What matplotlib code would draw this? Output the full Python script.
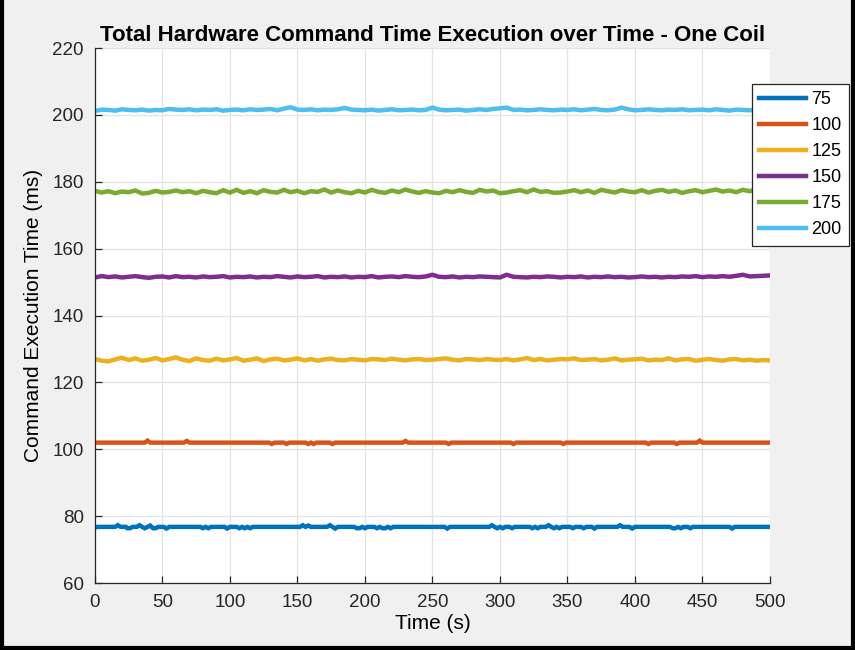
import numpy as np
import matplotlib
matplotlib.use("Agg")
import matplotlib.pyplot as plt
from matplotlib.lines import Line2D

plt.rcParams['font.family'] = ['Liberation Sans', 'DejaVu Sans']

# series labels and MATLAB default colours
labels = ['75', '100', '125', '150', '175', '200']
colors = ['#0072BD', '#D95319', '#EDB120', '#7E2F8E', '#77AC30', '#4DBEEE']

# 75 and 100 are flat with a few blips -> sparse points
t75 = [0, 2, 15, 17, 19, 23, 24, 26, 28, 31, 33, 35, 37, 39, 41, 43, 45, 47, 51, 53,
       55, 78, 80, 82, 84, 86, 96, 98, 100, 105, 107, 109, 111, 113, 115, 117, 152, 154, 156, 158,
       160, 172, 174, 176, 178, 180, 192, 194, 196, 198, 200, 202, 207, 209, 211, 213, 215, 217, 219, 221,
       259, 261, 263, 292, 294, 296, 298, 300, 302, 304, 307, 309, 311, 322, 324, 326, 328, 330, 334, 336,
       338, 340, 342, 344, 346, 352, 354, 356, 360, 362, 364, 368, 370, 372, 387, 389, 391, 396, 398, 400,
       426, 428, 430, 432, 434, 436, 439, 441, 443, 470, 472, 474, 500]
v75 = [76.6, 76.8, 76.8, 77.3, 76.8, 76.8, 76.4, 76.4, 76.8, 76.8, 77.3, 76.8, 76.4, 76.8, 77.2, 76.4, 76.4, 76.8, 76.8, 76.3,
       76.8, 76.8, 76.4, 76.8, 76.4, 76.8, 76.8, 76.3, 76.8, 76.8, 76.4, 76.8, 76.4, 76.8, 76.4, 76.8, 76.8, 77.3, 76.8, 77.2,
       76.8, 76.8, 77.3, 76.8, 76.3, 76.8, 76.8, 76.4, 76.4, 76.8, 76.4, 76.8, 76.8, 76.4, 76.8, 76.4, 76.4, 76.8, 76.4, 76.8,
       76.8, 76.3, 76.8, 76.8, 77.3, 76.8, 76.4, 76.8, 76.4, 76.8, 76.8, 76.4, 76.8, 76.8, 76.4, 76.8, 76.4, 76.8, 76.8, 77.3,
       76.8, 76.4, 76.8, 76.4, 76.8, 76.8, 76.4, 76.8, 76.8, 76.4, 76.8, 76.8, 76.3, 76.8, 76.8, 77.3, 76.8, 76.8, 76.3, 76.8,
       76.8, 76.4, 76.4, 76.8, 76.4, 76.8, 76.8, 76.4, 76.8, 76.8, 76.3, 76.8, 76.8]

t100 = [0, 37, 39, 41, 66, 68, 70, 129, 131, 133, 140, 142, 144, 156, 158, 160, 162, 164, 166, 174,
        176, 178, 228, 230, 232, 260, 262, 264, 308, 310, 312, 345, 347, 349, 408, 410, 412, 429, 431, 433,
        446, 448, 450, 500]
v100 = [102.0, 102.0, 102.6, 102.0, 102.0, 102.5, 102.0, 102.0, 101.6, 102.0, 102.0, 101.6, 102.0, 102.0, 101.6, 102.0, 101.6, 102.0, 102.0, 102.0,
        101.6, 102.0, 102.0, 102.5, 102.0, 102.0, 101.6, 102.0, 102.0, 101.6, 102.0, 102.0, 101.6, 102.0, 102.0, 101.6, 102.0, 102.0, 101.6, 102.0,
        102.0, 102.6, 102.0, 102.0]

# the other four are noisy -> one reading every 5 s
t5 = list(range(0, 501, 5))
v125 = [127.0, 126.5, 126.3, 126.9, 127.4, 126.7, 127.2, 126.5, 126.8, 127.3,
        126.6, 127.0, 127.5, 126.8, 126.4, 127.2, 126.7, 126.5, 127.1, 126.6,
        126.9, 127.3, 126.5, 126.8, 127.2, 126.4, 126.9, 127.1, 126.6, 126.8,
        127.2, 126.6, 127.0, 126.5, 126.9, 127.1, 126.7, 126.6, 127.0, 126.8,
        126.6, 127.0, 126.9, 126.7, 127.1, 126.8, 126.6, 126.9, 127.0, 126.7,
        126.8, 127.0, 127.2, 126.8, 126.6, 127.0, 126.9, 126.7, 127.0, 126.8,
        126.7, 127.0, 126.6, 126.9, 127.3, 126.7, 127.0, 126.6, 126.8, 127.0,
        126.9, 127.2, 126.7, 126.8, 127.0, 126.6, 126.8, 127.2, 126.6, 126.8,
        126.9, 127.1, 126.6, 126.8, 126.7, 127.2, 126.6, 126.9, 127.0, 126.5,
        126.8, 127.0, 126.7, 126.5, 126.9, 127.0, 126.6, 126.8, 126.5, 126.7, 126.6]
v150 = [151.4, 151.8, 151.5, 151.7, 151.4, 151.6, 151.8, 151.5, 151.3, 151.6,
        151.7, 151.4, 151.8, 151.5, 151.6, 151.4, 151.7, 151.5, 151.6, 151.8,
        151.4, 151.6, 151.5, 151.7, 151.4, 151.6, 151.5, 151.8, 151.6, 151.4,
        151.7, 151.5, 151.6, 151.8, 151.4, 151.6, 151.5, 151.7, 151.4, 151.6,
        151.5, 151.8, 151.4, 151.6, 151.7, 151.5, 151.8, 151.6, 151.5, 151.7,
        152.2, 151.6, 151.5, 151.7, 151.4, 151.6, 151.5, 151.7, 151.6, 151.5,
        151.4, 152.2, 151.6, 151.5, 151.4, 151.6, 151.5, 151.7, 151.6, 151.4,
        151.6, 151.5, 151.7, 151.4, 151.6, 151.5, 151.7, 151.5, 151.6, 151.4,
        151.5, 151.7, 151.5, 151.6, 151.4, 151.6, 151.5, 151.7, 151.6, 151.8,
        151.5, 151.7, 151.6, 151.8, 151.6, 151.9, 152.2, 151.7, 151.8, 151.9, 152.0]
v175 = [177.3, 176.8, 177.2, 176.6, 177.1, 176.9, 177.4, 176.5, 176.7, 177.3,
        176.8, 177.0, 177.4, 176.9, 177.2, 176.6, 177.3, 176.9, 176.6, 177.5,
        176.8, 177.6, 176.7, 177.2, 176.6, 177.5, 177.0, 176.8, 177.6, 176.9,
        177.3, 176.6, 177.2, 177.0, 177.7, 176.8, 177.4, 176.9, 176.6, 177.3,
        176.8, 177.6, 177.0, 176.7, 177.4, 176.9, 177.7, 177.1, 176.7, 177.2,
        176.8, 176.6, 177.3, 176.9, 177.5, 177.0, 176.7, 177.6, 177.1, 177.4,
        176.6, 176.8, 177.2, 177.5, 176.9, 177.7, 177.0, 177.2, 176.7, 176.8,
        177.1, 177.5, 176.9, 177.4, 176.7, 177.6, 177.2, 176.8, 177.5, 177.1,
        176.9, 177.5, 176.8, 177.3, 177.6, 177.0, 177.4, 176.7, 177.2, 177.5,
        176.9, 177.3, 177.7, 177.1, 177.4, 176.9, 177.6, 177.2, 177.8, 177.5, 177.7]
v200 = [201.2, 201.6, 201.5, 201.3, 201.7, 201.5, 201.4, 201.6, 201.3, 201.5,
        201.4, 201.8, 201.6, 201.5, 201.7, 201.4, 201.6, 201.5, 201.7, 201.3,
        201.5, 201.6, 201.4, 201.7, 201.5, 201.6, 201.8, 201.4, 201.9, 202.3,
        201.6, 201.5, 201.7, 201.4, 201.6, 201.5, 201.7, 202.1, 201.6, 201.5,
        201.4, 201.6, 201.3, 201.5, 201.7, 201.4, 201.5, 201.6, 201.4, 201.5,
        202.2, 201.6, 201.4, 201.5, 201.6, 201.3, 201.5, 201.7, 201.5, 201.8,
        202.0, 202.2, 201.5, 201.6, 201.4, 201.5, 201.7, 201.5, 201.4, 201.6,
        201.5, 201.7, 201.4, 201.6, 201.8, 201.5, 201.4, 201.6, 202.2, 201.7,
        201.4, 201.5, 201.7, 201.5, 201.4, 201.6, 201.5, 201.7, 201.4, 201.5,
        201.6, 201.4, 201.7, 201.5, 201.3, 201.6, 201.5, 201.4, 201.6, 201.5, 201.6]

series_t = [t75, t100, t5, t5, t5, t5]
series_v = [v75, v100, v125, v150, v175, v200]

fig = plt.figure(figsize=(8.55, 6.5), dpi=100, facecolor='#f0f0f0')
ax = fig.add_axes([0.111, 0.103, 0.7895, 0.823])

for t, v, c, lab in zip(series_t, series_v, colors, labels):
    ax.plot(t, v, color=c, lw=3.2, label=lab, solid_joinstyle='miter')

ax.set_xlim(0, 500)
ax.set_ylim(60, 220)
ax.set_xticks(np.arange(0, 501, 50))
ax.set_yticks(np.arange(60, 221, 20))
ax.grid(True, color='#e3e3e3', lw=0.9)
ax.set_axisbelow(True)
for s in ['top', 'right']:
    ax.spines[s].set_visible(False)
for s in ['left', 'bottom']:
    ax.spines[s].set_color('#262626')
    ax.spines[s].set_linewidth(0.9)
ax.tick_params(direction='in', length=5, width=0.9, colors='#262626', labelsize=13.5, pad=8)

ax.set_title('Total Hardware Command Time Execution over Time - One Coil',
             fontsize=16, fontweight='bold', pad=5)
ax.set_xlabel('Time (s)', fontsize=15, labelpad=2)
ax.set_ylabel('Command Execution Time (ms)', fontsize=15, labelpad=7)

leg = ax.legend(loc='upper left', bbox_to_anchor=(752 / 855, 1 - 84 / 650),
                bbox_transform=fig.transFigure, fontsize=13, handlelength=2.6,
                handletextpad=0.3, labelspacing=0.5, fancybox=False, framealpha=1,
                borderaxespad=0, borderpad=0.4)
leg.get_frame().set_edgecolor('#262626')
leg.get_frame().set_linewidth(0.9)

# black frame round the screenshot (left, right, bottom)
for xs, ys in [([0.002, 0.002], [0, 1]), ([0.998, 0.998], [0, 1]), ([0, 1], [0.003, 0.003])]:
    fig.add_artist(Line2D(xs, ys, color='black', lw=3, transform=fig.transFigure))

fig.savefig('out.png', dpi=100, facecolor=fig.get_facecolor())
